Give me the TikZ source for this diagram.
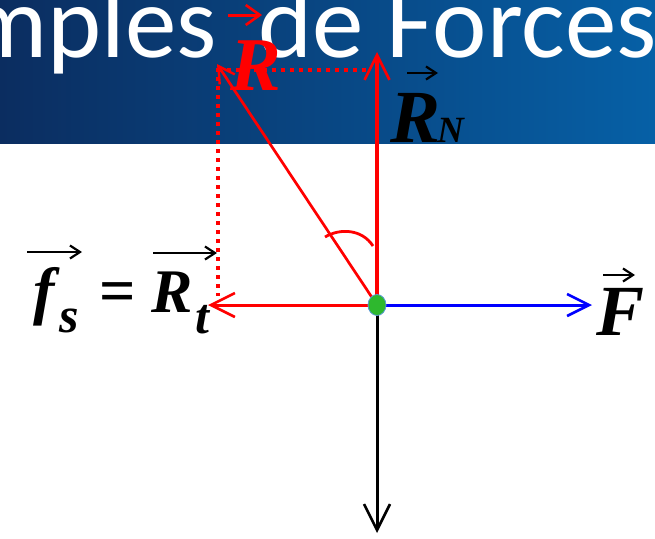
\documentclass[tikz,border=0pt]{standalone}
\usepackage{fontspec}
\setmainfont{Liberation Serif}
\newfontfamily\titlefont{Carlito}
\usetikzlibrary{arrows.meta,shapes.geometric}
\definecolor{bannerL}{RGB}{11,45,96}
\definecolor{bannerR}{RGB}{6,96,166}
\definecolor{vred}{RGB}{255,0,0}
\definecolor{vblue}{RGB}{0,0,255}
\definecolor{dotgreen}{RGB}{46,184,46}
\definecolor{dotedge}{RGB}{91,155,213}
\newcommand\lblsize[1]{\fontsize{#1}{#1}\selectfont\bfseries\itshape}
\tikzset{
  bigtip/.style={-{Straight Barb[length=#1,width=#1,line width=2.6pt]}},
  vecline/.style={line width=2.4pt,-{Straight Barb[length=10pt,width=13pt,line width=2.2pt]}},
  dotline/.style={vred,line width=3.3pt,dash pattern=on 3.5pt off 5.5pt},
  lbl/.style={inner sep=0,anchor=base west},
}
\begin{document}
\begin{tikzpicture}[x=1pt,y=-1pt]
\useasboundingbox (0,0) rectangle (655,538);
\begin{scope}
\clip (0,0) rectangle (655,538);
\shade[left color=bannerL,right color=bannerR] (0,0) rectangle (655,143);
\node[inner sep=0,anchor=base east,text=white,font=\titlefont\fontsize{103}{103}\selectfont] (title) at (657,57) {Exemples\hspace{18pt} de Forces};
\end{scope}
% points
\coordinate (O) at (377,305);
\coordinate (Ftip) at (592,305);
\coordinate (Wtip) at (377,533);
\coordinate (RNtip) at (377,52);
\coordinate (Rttip) at (208,305);
\coordinate (Rtip) at (217,64);
\coordinate (dA) at (218,68);
\coordinate (dB) at (218,296);
\coordinate (dC) at (368,70);
% dotted projections
\draw[dotline] (dA) -- (dB);
\draw[dotline] (dA |- dC) -- (dC);
% forces
\draw[vblue,line width=3pt,bigtip=22pt] (O) -- (Ftip);
\draw[black,line width=3pt,bigtip=26pt] (O) -- (Wtip);
\draw[vred,line width=3.5pt,bigtip=25pt] (O) -- (RNtip);
\draw[vred,line width=3pt,bigtip=24pt] (O) -- (Rttip);
\draw[vred,line width=2.7pt,-{Straight Barb[length=16pt,width=18pt,line width=2.4pt]}] (O) -- (Rtip);
% angle
\draw[vred,line width=2.8pt] (325,237) .. controls (340,228) and (362,229) .. (373,246);
% point
\node[ellipse,draw=dotedge,line width=0.8pt,fill=dotgreen,minimum width=18pt,minimum height=21pt,inner sep=0] (P) at (O) {};
% labels
\node[lbl,text=vred,font=\lblsize{76}] (R) at (230,90) {R};
\draw[vred,line width=3pt,-{Straight Barb[length=14pt,width=20pt,line width=2.6pt]}] (228,15) -- (262,15);
\node[lbl,font=\lblsize{75}] (RN) at (390,142) {R};
\node[lbl,font=\lblsize{37}] (N) at (437,142) {N};
\draw[vecline] (407,73) -- (438,73);
\node[lbl,font=\lblsize{72}] (F) at (596,335) {F};
\draw[vecline] (603,275) -- (635,275);
\node[lbl,font=\lblsize{64}] (f) at (33,312) {f};
\node[lbl,font=\lblsize{50}] (s) at (59,332) {s};
\draw[vecline] (27,252) -- (82,252);
\node[inner sep=0,anchor=base,font=\fontsize{64}{64}\selectfont\bfseries] (eq) at (118,312) {=};
\node[lbl,font=\lblsize{62}] (Rt) at (151,312) {R};
\node[lbl,font=\lblsize{50}] (t) at (195,333) {t};
\draw[vecline] (153,253) -- (217,253);
\end{tikzpicture}
\end{document}
